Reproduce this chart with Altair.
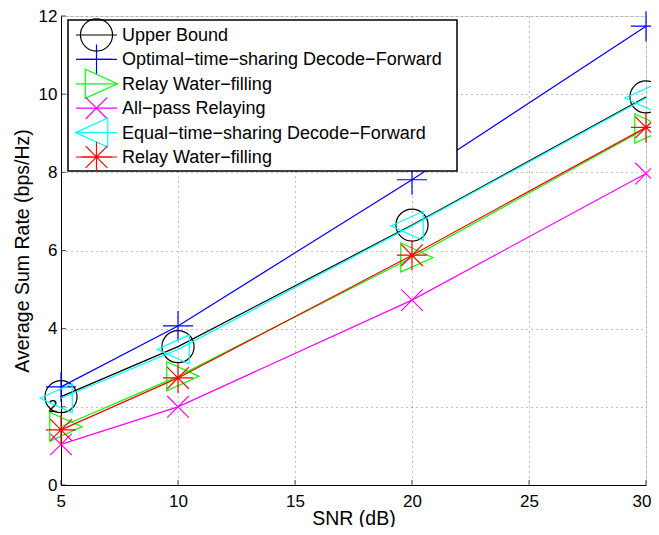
import altair as alt
import pandas as pd

# ---- data ----
snr = [5, 10, 20, 30]
upper_bound = [2.26, 3.54, 6.65, 9.93]
optimal_df = [2.51, 4.07, 7.81, 11.74]
relay_wf = [1.49, 2.78, 5.82, 9.12]
all_pass = [1.04, 2.00, 4.73, 7.97]
equal_df = [2.22, 3.47, 6.63, 9.90]
relay_wf_2 = [1.41, 2.74, 5.88, 9.15]

series_keys = ["s1", "s2", "s3", "s4", "s5", "s6"]
series_labels = [
    "Upper Bound",
    "Optimal\u2212time\u2212sharing Decode\u2212Forward",
    "Relay Water\u2212filling",
    "All\u2212pass Relaying",
    "Equal\u2212time\u2212sharing Decode\u2212Forward",
    "Relay Water\u2212filling",
]
series_values = [upper_bound, optimal_df, relay_wf, all_pass, equal_df, relay_wf_2]
colors = ["#000000", "#0000ff", "#00ff00", "#ff00ff", "#00ffff", "#ff0000"]

x_ticks = [5, 10, 15, 20, 25, 30]
y_ticks = [0, 2, 4, 6, 8, 10, 12]

# marker shapes (unit box, scaled by sqrt(size)/2)
CIRCLE = "M -1.07 0 A 1.07 1.07 0 1 1 1.07 0 A 1.07 1.07 0 1 1 -1.07 0 Z"
PLUS = "M -1 0 L 1 0 M 0 -1 L 0 1"
TRI_R = "M -0.75 -0.97 L 1.4 0 L -0.75 0.97 Z"
XMARK = "M -0.72 -0.72 L 0.72 0.72 M -0.72 0.72 L 0.72 -0.72"
TRI_L = "M 0.75 -0.97 L -1.4 0 L 0.75 0.97 Z"
STAR = "M -1 0 L 1 0 M 0 -1 L 0 1 M -0.72 -0.72 L 0.72 0.72 M -0.72 0.72 L 0.72 -0.72"
marker_paths = [CIRCLE, PLUS, TRI_R, XMARK, TRI_L, STAR]

rows = []
for k, vals in zip(series_keys, series_values):
    for s, v in zip(snr, vals):
        rows.append({"key": k, "snr": s, "rate": v})
df = pd.DataFrame(rows)
xt_df = pd.DataFrame({"snr": x_ticks})
yt_df = pd.DataFrame({"rate": y_ticks})
legend_df = pd.DataFrame({
    "key": series_keys,
    "label": series_labels,
    "row": list(range(len(series_keys))),
})

FONT = "Liberation Sans"

X = alt.X(
    "snr:Q",
    scale=alt.Scale(domain=[5, 30], nice=False, zero=False),
    axis=alt.Axis(
        values=x_ticks, title="SNR (dB)", grid=True, ticks=False,
        gridDash=[1, 4], gridColor="#808080", gridWidth=1,
        domainColor="black", domainWidth=1,
        labelFont=FONT, labelFontSize=17, labelColor="black", labelPadding=8,
        labelFlush=True, labelFlushOffset=5,
        titleFont=FONT, titleFontSize=19.5, titleFontWeight="normal",
        titleColor="black", titlePadding=0,
    ),
)
Y = alt.Y(
    "rate:Q",
    scale=alt.Scale(domain=[0, 12], nice=False, zero=False),
    axis=alt.Axis(
        values=y_ticks, title="Average Sum Rate (bps/Hz)", grid=True, ticks=False,
        gridDash=[1, 4], gridColor="#808080", gridWidth=1,
        domainColor="black", domainWidth=1,
        labelFont=FONT, labelFontSize=17, labelColor="black", labelPadding=4,
        titleFont=FONT, titleFontSize=19.5, titleFontWeight="normal",
        titleColor="black", titlePadding=6,
    ),
)

base = alt.Chart(df)
data_layers = []
for i, k in enumerate(series_keys):
    sub = base.transform_filter(alt.datum.key == k)
    data_layers.append(sub.mark_line(color=colors[i], strokeWidth=1.2).encode(x=X, y=Y))
    data_layers.append(
        sub.mark_point(shape=marker_paths[i], size=900, filled=False, color=colors[i],
                       strokeWidth=1.2, opacity=1).encode(x=X, y=Y)
    )

xticks_layer = alt.Chart(xt_df).mark_tick(
    orient="vertical", size=5, thickness=1, color="black", yOffset=-2.5
).encode(x=X, y=alt.datum(0))
yticks_layer = alt.Chart(yt_df).mark_tick(
    orient="horizontal", size=5, thickness=1, color="black", xOffset=2.5
).encode(y=Y, x=alt.datum(5))

plot_group = alt.layer(*data_layers, xticks_layer, yticks_layer)

# ---- legend (box + one row per series) ----
legend_box = alt.Chart(pd.DataFrame({"box": [0]})).mark_rect(
    fill="white", stroke="black", strokeWidth=1.5
).encode(x=alt.value(7), x2=alt.value(396), y=alt.value(4), y2=alt.value(155))

ROW = alt.Y("row:Q", scale=alt.Scale(domain=[0, 5], range=[19, 141]), axis=None)
COL = alt.Color("key:N", scale=alt.Scale(domain=series_keys, range=colors), legend=None)
SHP = alt.Shape("key:N", scale=alt.Scale(domain=series_keys, range=marker_paths), legend=None)

leg_base = alt.Chart(legend_df)
leg_lines = leg_base.mark_rule(strokeWidth=1.2).encode(
    x=alt.value(15), x2=alt.value(56), y=ROW, color=COL
)
leg_marks = leg_base.mark_point(size=900, filled=False, strokeWidth=1.2, opacity=1).encode(
    x=alt.value(35.5), y=ROW, color=COL, shape=SHP
)
leg_text = leg_base.mark_text(
    align="left", baseline="middle", font=FONT, fontSize=18, color="black", dy=1
).encode(x=alt.value(61), y=ROW, text="label:N")

legend_group = alt.layer(legend_box, leg_lines, leg_marks, leg_text)

chart = alt.layer(plot_group, legend_group).resolve_scale(
    y="independent"
).properties(
    width=585, height=469,
    autosize=alt.AutoSizeParams(type="none"),
    padding={"left": 53, "top": 8, "right": 5, "bottom": 42},
).configure_view(stroke=None).configure(background="white")

chart.save("out.html", embed_options={"renderer": "svg", "actions": False})
